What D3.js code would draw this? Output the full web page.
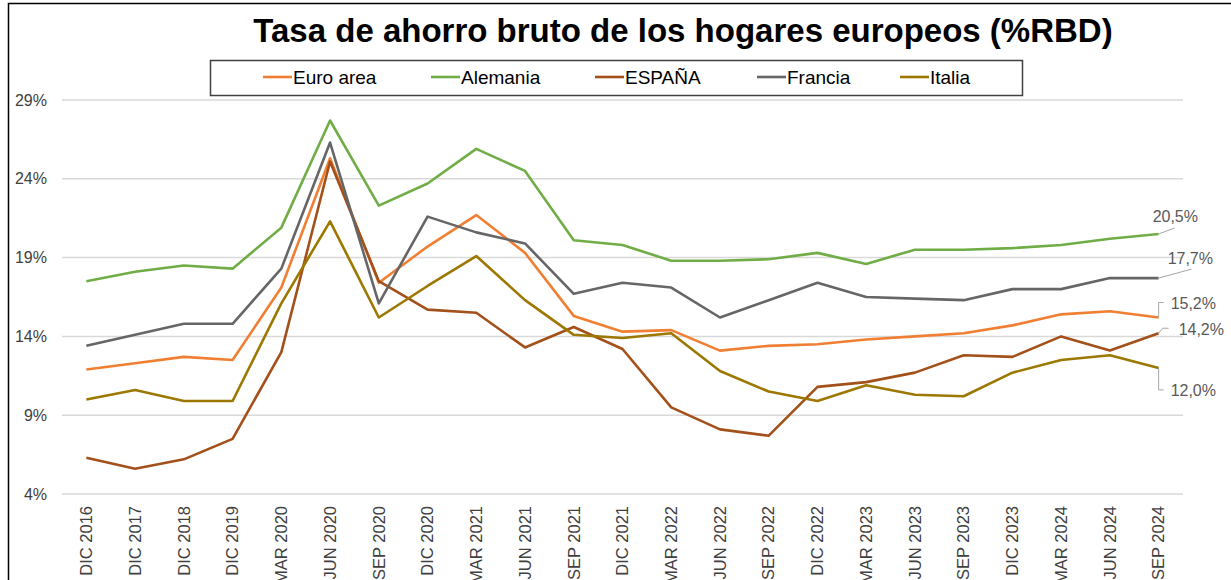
<!DOCTYPE html>
<html>
<head>
<meta charset="utf-8">
<script src="https://cdn.jsdelivr.net/npm/d3@7"></script>
<style>
  html, body { margin: 0; padding: 0; background: #fff; }
  svg { display: block; font-family: "Liberation Sans", Arial, sans-serif; }
</style>
</head>
<body>
<svg id="chart"></svg>
<script>
// Tasa de ahorro bruto de los hogares europeos (%RBD) — line chart

const PERIODS = [
  "DIC 2016", "DIC 2017", "DIC 2018", "DIC 2019", "MAR 2020", "JUN 2020", "SEP 2020",
  "DIC 2020", "MAR 2021", "JUN 2021", "SEP 2021", "DIC 2021", "MAR 2022", "JUN 2022",
  "SEP 2022", "DIC 2022", "MAR 2023", "JUN 2023", "SEP 2023", "DIC 2023", "MAR 2024",
  "JUN 2024", "SEP 2024"
];

const SERIES_NAMES = ["Euro area", "Alemania", "ESPAÑA", "Francia", "Italia"];

const euroArea = [11.9, 12.3, 12.7, 12.5, 17.1, 25.3, 17.4, 19.7, 21.7, 19.3, 15.3, 14.3, 14.4, 13.1, 13.4, 13.5, 13.8, 14.0, 14.2, 14.7, 15.4, 15.6, 15.2];
const alemania = [17.5, 18.1, 18.5, 18.3, 20.9, 27.7, 22.3, 23.7, 25.9, 24.5, 20.1, 19.8, 18.8, 18.8, 18.9, 19.3, 18.6, 19.5, 19.5, 19.6, 19.8, 20.2, 20.5];
const espana   = [6.3, 5.6, 6.2, 7.5, 13.0, 25.1, 17.5, 15.7, 15.5, 13.3, 14.6, 13.2, 9.5, 8.1, 7.7, 10.8, 11.1, 11.7, 12.8, 12.7, 14.0, 13.1, 14.2];
const francia  = [13.4, 14.1, 14.8, 14.8, 18.3, 26.3, 16.1, 21.6, 20.6, 19.9, 16.7, 17.4, 17.1, 15.2, 16.3, 17.4, 16.5, 16.4, 16.3, 17.0, 17.0, 17.7, 17.7];
const italia   = [10.0, 10.6, 9.9, 9.9, 16.1, 21.3, 15.2, 17.2, 19.1, 16.3, 14.1, 13.9, 14.2, 11.8, 10.5, 9.9, 10.9, 10.3, 10.2, 11.7, 12.5, 12.8, 12.0];

const Y_TICKS = [4, 9, 14, 19, 24, 29];

const COLORS = ["#F07F33", "#70AD47", "#A3501B", "#666666", "#9C7800"];

// leader line shapes for the end labels, relative to the last point (dx, dy pairs)
const LEADERS = [
  { pts: [[0, 0], [0, -15], [5, -15]], tx: 12, ty: -8 },    // Euro area 15,2%
  { pts: [[0, 0], [16, -6]], tx: -6, ty: -12 },             // Alemania 20,5%
  { pts: [[0, 0], [4, -5], [10, -5]], tx: 20, ty: 2 },      // España 14,2%
  { pts: [[0, 0], [33, -9]], tx: 9, ty: -14 },              // Francia 17,7%
  { pts: [[0, 0], [0, 22], [5, 22]], tx: 12, ty: 28 },      // Italia 12,0%
];

const W = 1231, H = 580;
const plot = { left: 62, right: 1183, top: 100, bottom: 494 };

const series = SERIES_NAMES.map((name, i) => ({
  name,
  color: COLORS[i],
  values: [euroArea, alemania, espana, francia, italia][i],
}));

const svg = d3.select("#chart").attr("width", W).attr("height", H);

svg.append("rect").attr("width", W).attr("height", H).attr("fill", "#fff");

// outer frame (right and bottom edges fall outside the picture)
svg.append("rect")
  .attr("x", 8.5).attr("y", 3.5)
  .attr("width", W + 20).attr("height", H + 20)
  .attr("fill", "none").attr("stroke", "#000").attr("stroke-width", 1.5);

const x = d3.scalePoint().domain(PERIODS).range([plot.left, plot.right]).padding(0.5);
const y = d3.scaleLinear().domain([4, 29]).range([plot.bottom, plot.top]);

// gridlines
svg.append("g")
  .selectAll("line")
  .data(Y_TICKS)
  .join("line")
  .attr("x1", plot.left).attr("x2", plot.right)
  .attr("y1", d => y(d)).attr("y2", d => y(d))
  .attr("stroke", "#d9d9d9").attr("stroke-width", 1.5);

// y tick labels
svg.append("g")
  .selectAll("text")
  .data(Y_TICKS)
  .join("text")
  .attr("x", 47).attr("y", d => y(d)).attr("dy", "0.35em")
  .attr("text-anchor", "end")
  .attr("font-size", 16).attr("fill", "#404040")
  .text(d => `${d}%`);

// x tick labels, rotated
svg.append("g")
  .selectAll("text")
  .data(PERIODS)
  .join("text")
  .attr("transform", d => `translate(${x(d)},506) rotate(-90)`)
  .attr("dy", "0.35em")
  .attr("text-anchor", "end")
  .attr("font-size", 16.5).attr("fill", "#404040")
  .text(d => d);

// lines
const line = d3.line()
  .x((d, i) => x(PERIODS[i]))
  .y(d => y(d));

svg.append("g")
  .selectAll("path")
  .data(series)
  .join("path")
  .attr("d", d => line(d.values))
  .attr("fill", "none")
  .attr("stroke", d => d.color)
  .attr("stroke-width", 2.6)
  .attr("stroke-linejoin", "round");

// end labels with leader lines
const fmt = v => `${v.toFixed(1).replace(".", ",")}%`;
const last = PERIODS[PERIODS.length - 1];
const labels = svg.append("g");
series.forEach((s, i) => {
  const v = s.values[s.values.length - 1];
  const px = x(last), py = y(v);
  const lead = LEADERS[i];
  labels.append("path")
    .attr("d", d3.line()(lead.pts.map(([dx, dy]) => [px + dx, py + dy])))
    .attr("fill", "none").attr("stroke", "#a6a6a6").attr("stroke-width", 1);
  labels.append("text")
    .attr("x", px + lead.tx).attr("y", py + lead.ty)
    .attr("font-size", 16).attr("fill", "#595959")
    .text(fmt(v));
});

// title
svg.append("text")
  .attr("x", 683).attr("y", 42)
  .attr("text-anchor", "middle")
  .attr("font-size", 33).attr("font-weight", "bold").attr("fill", "#000")
  .text("Tasa de ahorro bruto de los hogares europeos (%RBD)");

// legend
const legend = svg.append("g");
legend.append("rect")
  .attr("x", 210.5).attr("y", 60.5).attr("width", 812).attr("height", 35)
  .attr("fill", "#fff").attr("stroke", "#404040").attr("stroke-width", 1.5);

const legendX = [263, 431, 595, 757, 900];
const item = legend.selectAll("g.item")
  .data(series)
  .join("g")
  .attr("class", "item")
  .attr("transform", (d, i) => `translate(${legendX[i]},77)`);
item.append("line")
  .attr("x1", 0).attr("x2", 29)
  .attr("stroke", d => d.color).attr("stroke-width", 2.6);
item.append("text")
  .attr("x", 30).attr("dy", "0.35em")
  .attr("font-size", 19).attr("fill", "#000")
  .text(d => d.name);
</script>
</body>
</html>
